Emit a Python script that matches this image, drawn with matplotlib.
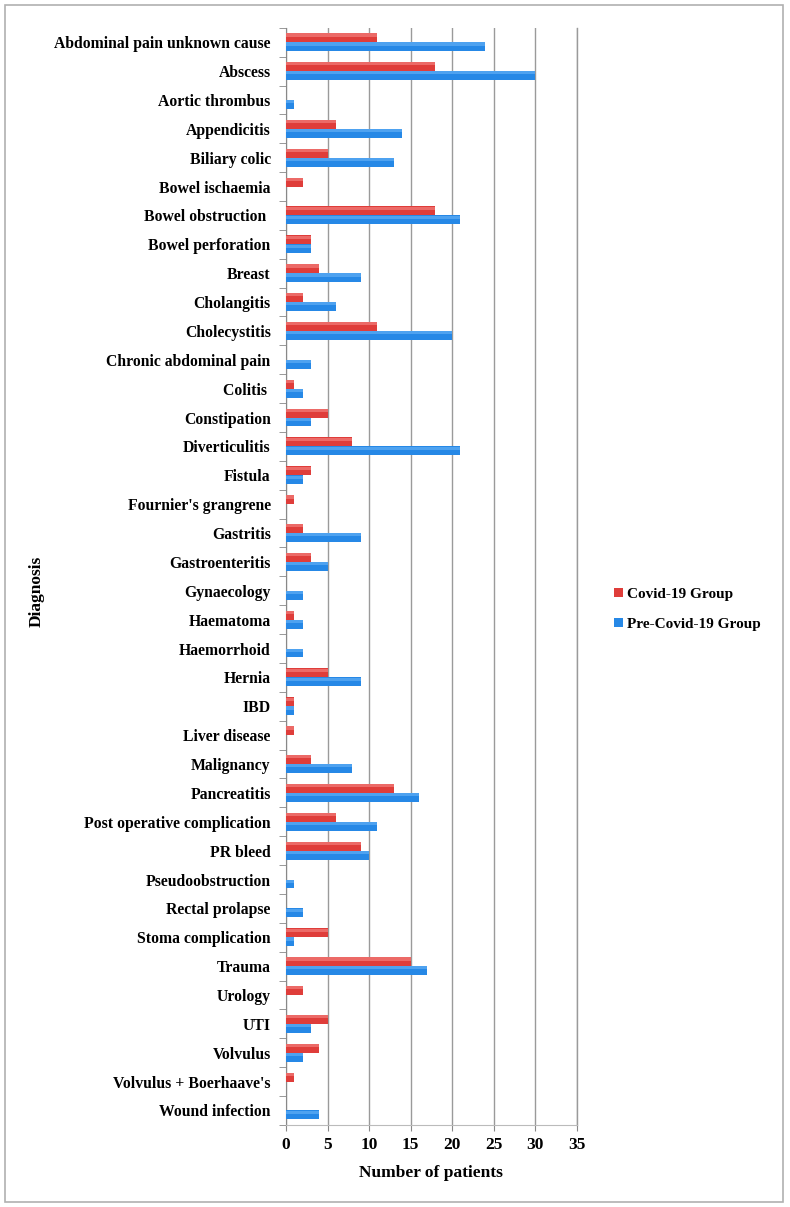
import matplotlib
matplotlib.use("Agg")
import matplotlib.pyplot as plt
import numpy as np
from matplotlib.patches import Rectangle

# diagnosis categories, top to bottom
diagnoses = ["Abdominal pain unknown cause", "Abscess", "Aortic thrombus", "Appendicitis",
             "Biliary colic", "Bowel ischaemia", "Bowel obstruction ", "Bowel perforation",
             "Breast", "Cholangitis", "Cholecystitis", "Chronic abdominal pain", "Colitis ",
             "Constipation", "Diverticulitis", "Fistula", "Fournier's grangrene", "Gastritis",
             "Gastroenteritis", "Gynaecology", "Haematoma", "Haemorrhoid", "Hernia", "IBD",
             "Liver disease", "Malignancy", "Pancreatitis", "Post operative complication",
             "PR bleed", "Pseudoobstruction", "Rectal prolapse", "Stoma complication",
             "Trauma", "Urology", "UTI", "Volvulus", "Volvulus + Boerhaave's", "Wound infection"]

covid = [11, 18, 0, 6, 5, 2, 18, 3, 4, 2, 11, 0, 1, 5, 8, 3, 1, 2, 3, 0, 1, 0, 5, 1,
         1, 3, 13, 6, 9, 0, 0, 5, 15, 2, 5, 4, 1, 0]
pre_covid = [24, 30, 1, 14, 13, 0, 21, 3, 9, 6, 20, 3, 2, 3, 21, 2, 0, 9, 5, 2, 2, 2, 9, 1,
             0, 8, 16, 11, 10, 1, 2, 1, 17, 0, 3, 2, 0, 4]

x_ticks = [0, 5, 10, 15, 20, 25, 30, 35]

plt.rcParams['font.family'] = ['Liberation Serif', 'DejaVu Serif']

fig = plt.figure(figsize=(7.9, 12.07), dpi=100)
ax = fig.add_axes([0.362, 0.068, 0.368, 0.909])

n = len(diagnoses)
y = np.arange(n)
h = 0.31

red = "#df3d3a"
blue = "#2688e6"

ax.barh(y - h / 2, covid, height=h, color=red, label="Covid-19 Group", zorder=3)
ax.barh(y + h / 2, pre_covid, height=h, color=blue, label="Pre-Covid-19 Group", zorder=3)
# lighter upper part to mimic the shaded bars
ax.barh(y - h * 0.8, covid, height=h * 0.35, color="#ec6a67", zorder=4, linewidth=0)
ax.barh(y + h * 0.2, pre_covid, height=h * 0.35, color="#4ea2f0", zorder=4, linewidth=0)

ax.set_ylim(n - 0.5, -0.5)
ax.set_xlim(0, 35)
ax.set_xticks(x_ticks)
ax.set_xticklabels([str(t) for t in x_ticks], fontsize=12.5, fontweight="bold")

ax.set_yticks(y)
ax.set_yticklabels(diagnoses, fontsize=11.3, fontweight="bold")
ax.set_yticks(np.arange(n + 1) - 0.5, minor=True)
ax.tick_params(axis="y", which="major", length=0, pad=11)
ax.tick_params(axis="y", which="minor", length=5, color="#888888", direction="out")
ax.tick_params(axis="x", length=4, color="#888888", direction="out", pad=5)

ax.grid(axis="x", color="#9a9a9a", linewidth=1, zorder=0)
ax.axvline(35, color="#9a9a9a", linewidth=1, zorder=0, clip_on=False)
for s in ["top", "right"]:
    ax.spines[s].set_visible(False)
ax.spines["left"].set_color("#888888")
ax.spines["bottom"].set_color("#bbbbbb")

ax.set_xlabel("Number of patients", fontsize=12.5, fontweight="bold", labelpad=8)
fig.text(0.046, 0.51, "Diagnosis", rotation=90, fontsize=12.5, fontweight="bold",
         ha="center", va="center")

ax.legend(loc="center left", bbox_to_anchor=(1.08, 0.47), frameon=False,
          prop={"weight": "bold", "size": 11},
          handlelength=0.6, handleheight=0.6, handletextpad=0.3, labelspacing=1.1)

fig.patches.append(Rectangle((5 / 790, 1 - 1202 / 1207), 778 / 790, 1197 / 1207,
                             transform=fig.transFigure, fill=False,
                             edgecolor="#b0b0b0", linewidth=1.2))

plt.savefig("out.png", dpi=100)
